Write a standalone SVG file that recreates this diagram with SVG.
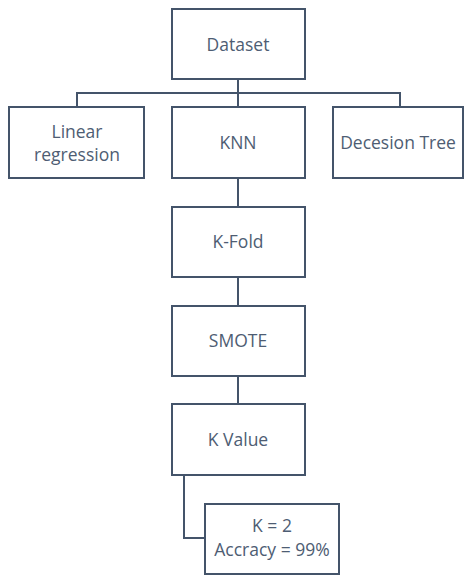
<svg xmlns="http://www.w3.org/2000/svg" width="464" height="575" viewBox="0 0 464 575">
<style>
.box{fill:#fff;stroke:#44546A;stroke-width:2}
.ln{fill:none;stroke:#44546A;stroke-width:2}
text{font-family:"Open Sans","Liberation Sans",sans-serif;font-size:17.5px;fill:#4E5D73;text-anchor:middle}
</style>
<rect width="464" height="575" fill="#fff"/>
<g id="connectors">
<path class="ln" d="M238 79V107M77 107V93H400V107M238 178V207M238 277V306M238 376V404M184 475V538H204"/>
</g>
<g id="dataset"><rect class="box" x="172" y="9" width="133" height="70"/><text x="238" y="51">Dataset</text></g>
<g id="linreg"><rect class="box" x="9" y="107" width="135" height="71"/><text x="77" y="138">Linear</text><text x="77" y="161">regression</text></g>
<g id="knn"><rect class="box" x="172" y="107" width="133" height="71"/><text x="238" y="149">KNN</text></g>
<g id="dtree"><rect class="box" x="333" y="107" width="130" height="71"/><text x="398" y="149">Decesion Tree</text></g>
<g id="kfold"><rect class="box" x="172" y="207" width="133" height="70"/><text x="238" y="248">K-Fold</text></g>
<g id="smote"><rect class="box" x="172" y="306" width="133" height="70"/><text x="238" y="347">SMOTE</text></g>
<g id="kvalue"><rect class="box" x="172" y="404" width="133" height="71"/><text x="238" y="446">K Value</text></g>
<g id="result"><rect class="box" x="205" y="504" width="134" height="70"/><text x="272" y="532">K = 2</text><text x="272" y="556">Accracy = 99%</text></g>
</svg>
